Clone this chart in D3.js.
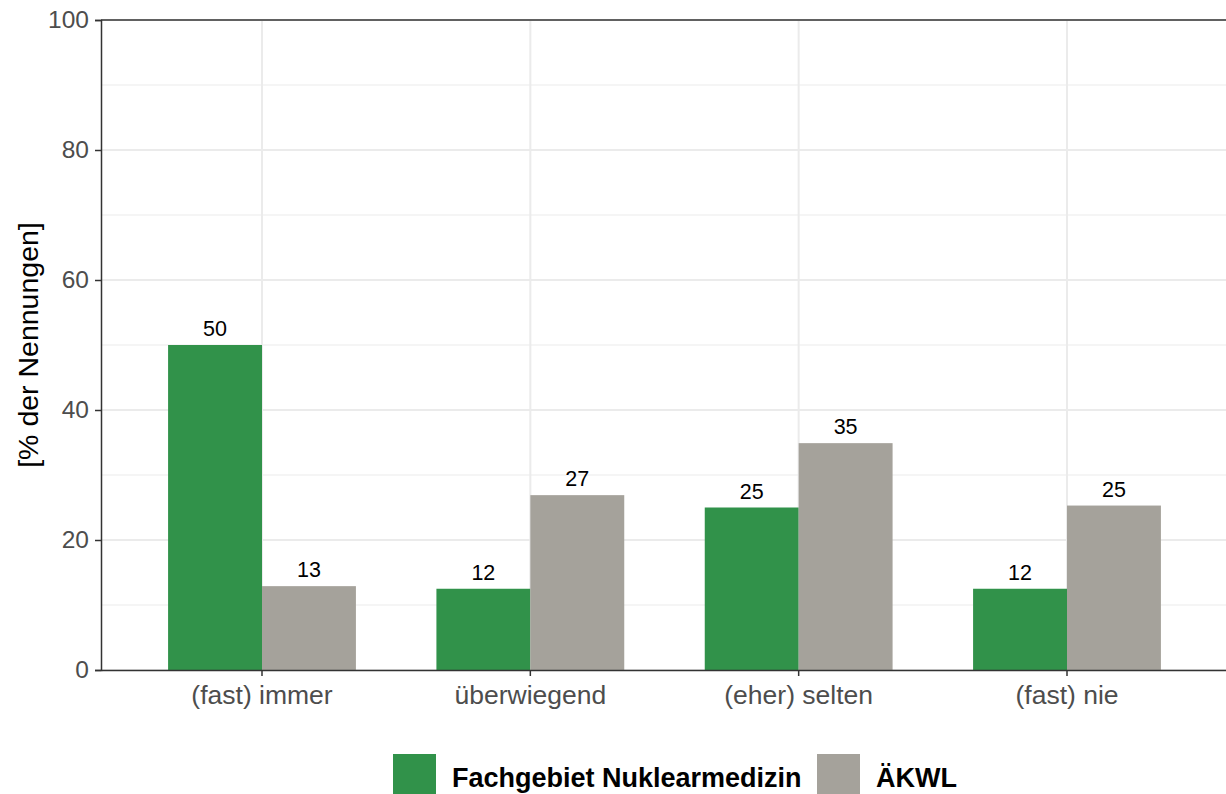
<!DOCTYPE html>
<html>
<head>
<meta charset="utf-8">
<script src="https://cdn.jsdelivr.net/npm/d3@7"></script>
<style>
  body { margin: 0; background: #fff; }
  svg { display: block; font-family: "Liberation Sans", Arial, sans-serif; }
</style>
</head>
<body>
<script>
const categories = ['(fast) immer', 'überwiegend', '(eher) selten', '(fast) nie'];
const seriesNames = ['Fachgebiet Nuklearmedizin', 'ÄKWL'];
const nuklearValues = [50, 12.5, 25, 12.5];
const akwlValues = [12.9, 26.9, 34.9, 25.3];
const yTicks = [0, 20, 40, 60, 80, 100];
const yMinor = [10, 30, 50, 70, 90];
const colors = ['#31924a', '#a5a29b'];

const width = 1226, height = 794;
const margin = { top: 20, left: 101, bottom: 124, right: -2 };

// R-style rounding (half to even) for labels
function roundEven(v) {
  const f = Math.floor(v), d = v - f;
  if (Math.abs(d - 0.5) < 1e-9) return f % 2 === 0 ? f : f + 1;
  return Math.round(v);
}

const data = categories.map((c, i) => ({
  category: c,
  values: [nuklearValues[i], akwlValues[i]]
}));

const svg = d3.select('body').append('svg')
  .attr('width', width)
  .attr('height', height);

const x0 = d3.scaleBand()
  .domain(categories)
  .range([margin.left, width - margin.right])
  .paddingInner(0.3)
  .paddingOuter(0.25);

const x1 = d3.scaleBand()
  .domain([0, 1])
  .range([0, x0.bandwidth()]);

const y = d3.scaleLinear()
  .domain([0, 100])
  .range([height - margin.bottom, margin.top]);

// grid
const grid = svg.append('g');
grid.selectAll('.minor')
  .data(yMinor)
  .join('line')
    .attr('x1', margin.left).attr('x2', width)
    .attr('y1', d => y(d)).attr('y2', d => y(d))
    .attr('stroke', '#ebebeb').attr('stroke-width', 1);
grid.selectAll('.major')
  .data(yTicks)
  .join('line')
    .attr('x1', margin.left).attr('x2', width)
    .attr('y1', d => y(d)).attr('y2', d => y(d))
    .attr('stroke', '#ebebeb').attr('stroke-width', 2);
grid.selectAll('.vert')
  .data(categories)
  .join('line')
    .attr('x1', d => x0(d) + x0.bandwidth() / 2)
    .attr('x2', d => x0(d) + x0.bandwidth() / 2)
    .attr('y1', y(0)).attr('y2', y(100))
    .attr('stroke', '#ebebeb').attr('stroke-width', 2);

// bars
const group = svg.append('g')
  .selectAll('g')
  .data(data)
  .join('g')
    .attr('transform', d => `translate(${x0(d.category)},0)`);

group.selectAll('rect')
  .data(d => d.values)
  .join('rect')
    .attr('x', (d, i) => x1(i))
    .attr('y', d => y(d))
    .attr('width', x1.bandwidth())
    .attr('height', d => y(0) - y(d))
    .attr('fill', (d, i) => colors[i]);

group.selectAll('text')
  .data(d => d.values)
  .join('text')
    .attr('x', (d, i) => x1(i) + x1.bandwidth() / 2)
    .attr('y', d => y(d) - 9)
    .attr('text-anchor', 'middle')
    .attr('font-size', 21.5)
    .attr('fill', '#000')
    .text(d => roundEven(d));

// axes
const yAxis = svg.append('g')
  .attr('transform', `translate(${margin.left},0)`)
  .call(d3.axisLeft(y).tickValues(yTicks).tickSize(6).tickPadding(6));
yAxis.select('.domain').attr('stroke', '#333').attr('stroke-width', 1.5);
yAxis.selectAll('.tick line').attr('stroke', '#333').attr('stroke-width', 1.5);
yAxis.selectAll('.tick text').attr('fill', '#4d4d4d').attr('font-size', 24.5);

const xAxis = svg.append('g')
  .attr('transform', `translate(0,${y(0)})`)
  .call(d3.axisBottom(x0).tickSize(6).tickPadding(9).tickSizeOuter(0));
xAxis.select('.domain').attr('stroke', '#333').attr('stroke-width', 1.5);
xAxis.selectAll('.tick line').attr('stroke', '#333').attr('stroke-width', 1.5);
xAxis.selectAll('.tick text').attr('fill', '#4d4d4d').attr('font-size', 26.5);

// top border
svg.append('line')
  .attr('x1', margin.left).attr('x2', width)
  .attr('y1', y(100)).attr('y2', y(100))
  .attr('stroke', '#333').attr('stroke-width', 1.5);

// y axis title
svg.append('text')
  .attr('transform', `translate(38,${(y(0) + y(100)) / 2}) rotate(-90)`)
  .attr('text-anchor', 'middle')
  .attr('font-size', 28.5)
  .attr('fill', '#000')
  .text('[% der Nennungen]');

// legend
const legend = svg.append('g');
const legendItems = [
  { name: seriesNames[0], color: colors[0], x: 393 },
  { name: seriesNames[1], color: colors[1], x: 817 }
];
const item = legend.selectAll('g')
  .data(legendItems)
  .join('g')
    .attr('transform', d => `translate(${d.x},754)`);
item.append('rect')
  .attr('width', 43).attr('height', 43)
  .attr('fill', d => d.color);
item.append('text')
  .attr('x', 59).attr('y', 33)
  .attr('font-size', 27)
  .attr('font-weight', 'bold')
  .attr('fill', '#000')
  .text(d => d.name);
</script>
</body>
</html>
